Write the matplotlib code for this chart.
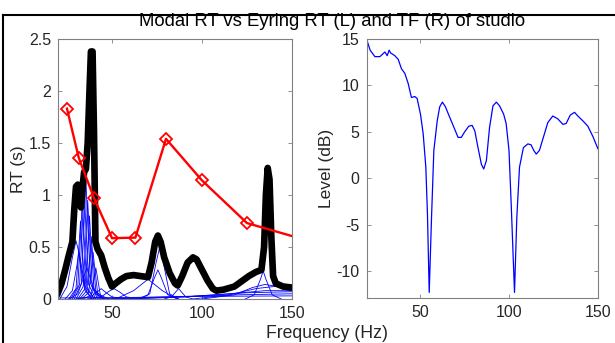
import matplotlib.pyplot as plt
from matplotlib.lines import Line2D

plt.rcParams['font.family'] = ['Liberation Sans', 'DejaVu Sans']
plt.rcParams['axes.unicode_minus'] = False

# Eyring RT in third-octave bands (red)
eyring_freq = [25, 31.5, 40, 50, 63, 80, 100, 125, 160]
eyring_rt = [1.83, 1.36, 0.97, 0.585, 0.59, 1.54, 1.14, 0.73, 0.555]

# Overall modal RT (thick black)
modal_freq = [20, 22, 24, 26, 28, 29, 30, 31, 32, 32.8, 33.5, 34.5, 35.5, 36.5,
              37.5, 38.3, 39.2, 40, 40.8, 42, 44, 46, 48, 50, 52, 55, 58, 62,
              66, 70, 72, 74, 75.5, 77, 79, 82, 85, 86.5, 89, 92, 95, 97, 100,
              103, 106, 108, 112, 118, 122, 126, 130, 133, 134.5, 135.5, 136.5,
              137.5, 138.5, 139.5, 141, 145, 150]
modal_rt = [0.06, 0.15, 0.28, 0.42, 0.55, 0.85, 1.08, 1.10, 0.95, 0.88, 1.05,
            1.22, 1.25, 1.5, 2.0, 2.38, 2.38, 1.6, 0.55, 0.48, 0.42, 0.3, 0.2,
            0.12, 0.15, 0.19, 0.22, 0.23, 0.22, 0.21, 0.35, 0.55, 0.61, 0.55,
            0.4, 0.25, 0.15, 0.13, 0.22, 0.35, 0.40, 0.38, 0.28, 0.18, 0.1,
            0.08, 0.09, 0.12, 0.17, 0.22, 0.26, 0.28, 0.5, 1.0, 1.26, 1.15,
            0.6, 0.22, 0.15, 0.12, 0.11]

# Individual mode RT curves (thin blue)
mode_freqs = [
    [21, 25, 28, 30, 32, 35, 40],
    [24, 28, 30.5, 31.5, 32.5, 35, 39],
    [26, 30, 31.8, 32.5, 33.2, 35, 39],
    [27, 31, 32.8, 33.5, 34.2, 36, 40],
    [28, 32, 33.8, 34.5, 35.2, 37, 41],
    [29, 33, 34.8, 35.5, 36.2, 38, 42],
    [30, 34, 35.8, 36.5, 37.2, 39, 43],
    [31, 35, 36.8, 37.5, 38.2, 40, 44],
    [32, 36, 37.8, 38.5, 39.2, 41, 45],
    [33, 37, 38.8, 39.5, 40.2, 42, 46],
    [34, 38.5, 40.2, 41, 41.8, 43.5, 48],
    [26, 31, 34.5, 36, 37.5, 41, 46],
    [30, 38, 42, 44, 46, 50, 58],
    [36, 44, 48, 51, 54, 58, 66],
    [52, 62, 70, 78, 86],
    [66, 71, 74.5, 76.5, 78.5, 82, 87],
    [64, 70, 73.5, 75.5, 77.5, 81, 87],
    [79, 83, 86, 87, 88, 91, 95],
    [124, 129, 132.5, 134, 135.5, 139, 144],
    [100, 118, 128, 135, 142, 150],
    [95, 115, 130, 140, 150],
    [60, 90, 115, 135, 150],
    [40, 80, 120, 150],
    [20, 60, 100, 150],
    [50, 90, 125, 150],
]
mode_rts = [
    [0.0, 0.12, 0.40, 0.56, 0.42, 0.12, 0.01],
    [0.0, 0.08, 0.32, 0.45, 0.32, 0.08, 0.0],
    [0.0, 0.10, 0.55, 0.75, 0.55, 0.10, 0.0],
    [0.0, 0.12, 0.70, 0.95, 0.70, 0.12, 0.0],
    [0.0, 0.14, 0.80, 1.10, 0.80, 0.14, 0.0],
    [0.0, 0.15, 0.85, 1.15, 0.85, 0.15, 0.0],
    [0.0, 0.12, 0.70, 0.95, 0.70, 0.12, 0.0],
    [0.0, 0.10, 0.58, 0.80, 0.58, 0.10, 0.0],
    [0.0, 0.08, 0.44, 0.60, 0.44, 0.08, 0.0],
    [0.0, 0.06, 0.33, 0.45, 0.33, 0.06, 0.0],
    [0.0, 0.04, 0.22, 0.30, 0.22, 0.04, 0.0],
    [0.0, 0.05, 0.22, 0.30, 0.22, 0.05, 0.0],
    [0.0, 0.02, 0.07, 0.10, 0.07, 0.02, 0.0],
    [0.0, 0.02, 0.07, 0.10, 0.07, 0.02, 0.0],
    [0.0, 0.08, 0.19, 0.08, 0.0],
    [0.0, 0.05, 0.35, 0.50, 0.35, 0.05, 0.0],
    [0.0, 0.04, 0.20, 0.28, 0.20, 0.04, 0.0],
    [0.0, 0.02, 0.08, 0.10, 0.08, 0.02, 0.0],
    [0.0, 0.04, 0.19, 0.27, 0.19, 0.04, 0.0],
    [0.0, 0.04, 0.11, 0.14, 0.12, 0.08],
    [0.0, 0.04, 0.10, 0.12, 0.11],
    [0.0, 0.02, 0.05, 0.08, 0.08],
    [0.0, 0.02, 0.04, 0.05],
    [0.01, 0.015, 0.025, 0.03],
    [0.0, 0.02, 0.06, 0.07],
]

# Transfer function of studio (right)
tf_freq = [20, 22, 24.7, 27.5, 30.3, 31.6, 32.7, 33.5, 35.9, 37.8, 39.6, 41.5,
           43.4, 45.2, 47.1, 48.4, 50.3, 51.8, 53.3, 54.2, 55.2, 56.5, 57.8,
           59.7, 61.1, 62.6, 64.3, 66.2, 68.6, 71.4, 73.2, 75.1, 77.4, 79.3,
           80.8, 82.6, 84.5, 85.8, 87.3, 89.1, 91, 92.9, 94.7, 97, 98.4, 100,
           101.3, 103.1, 104.4, 105.9, 108.1, 110.6, 112.4, 113.9, 115.3,
           117.1, 119.6, 121.8, 124.6, 127.4, 130.3, 132.1, 134.4, 136.8,
           138.7, 141.4, 144.3, 147.1, 149.9]
tf_db = [15, 13.8, 13.1, 13.1, 13.6, 13.2, 13.8, 13.5, 13.2, 12.8, 11.8, 11.3,
         10.2, 8.7, 8.8, 8.6, 6.9, 4.8, 1.2, -3.8, -12.3, -4.2, 3.0, 6.2, 7.7,
         8.2, 7.7, 6.8, 5.7, 4.4, 4.4, 5.0, 5.6, 5.7, 5.1, 3.3, 1.5, 1.0, 1.9,
         5.5, 7.8, 8.2, 7.8, 6.9, 5.9, 3.0, -3.1, -12.3, -4.2, 1.2, 3.3, 3.7,
         3.6, 3.0, 2.6, 3.0, 4.6, 6.0, 6.7, 6.4, 5.8, 5.9, 6.8, 7.1, 6.7, 6.2,
         5.6, 4.5, 3.2]

fig = plt.figure(figsize=(6.15, 3.43), dpi=100)
ax1 = fig.add_axes([0.0943, 0.1283, 0.3805, 0.758])
ax2 = fig.add_axes([0.596, 0.1312, 0.3764, 0.7551])

for f, rt in zip(mode_freqs, mode_rts):
    ax1.plot(f, rt, color='blue', linewidth=0.6)
ax1.plot(modal_freq, modal_rt, color='black', linewidth=4.8,
         solid_joinstyle='round')
ax1.plot(eyring_freq, eyring_rt, color='red', linewidth=1.7, marker='D',
         markersize=6.5, markerfacecolor='none', markeredgecolor='red',
         markeredgewidth=1.3)
ax1.set_xlim(20, 150)
ax1.set_ylim(0, 2.5)
ax1.set_xticks([50, 100, 150])
ax1.set_yticks([0, 0.5, 1, 1.5, 2, 2.5])
ax1.set_yticklabels(['0', '0.5', '1', '1.5', '2', '2.5'])
ax1.set_ylabel('RT (s)', fontsize=12.5, color='#262626', labelpad=2)

ax2.plot(tf_freq, tf_db, color='blue', linewidth=0.9)
ax2.set_xlim(20, 150)
ax2.set_ylim(-12.9, 15)
ax2.set_xticks([50, 100, 150])
ax2.set_yticks([-10, -5, 0, 5, 10, 15])
ax2.set_ylabel('Level (dB)', fontsize=12.5, color='#262626', labelpad=2)

for ax in (ax1, ax2):
    ax.tick_params(direction='in', length=3, width=0.6, top=True, right=True,
                   labelsize=11.5, colors='#808080', pad=5)
    ax.tick_params(labelcolor='#262626')
    for s in ax.spines.values():
        s.set_color('#808080')
        s.set_linewidth(0.8)

fig.text(0.54, 0.936, 'Modal RT vs Eyring RT (L) and TF (R) of studio',
         ha='center', va='center', fontsize=13.3, color='black')
fig.text(0.532, 0.028, 'Frequency (Hz)', ha='center', va='center',
         fontsize=12.7, color='#262626')

# outer frame lines of the screenshot
fig.add_artist(Line2D([0.005, 1.0], [0.956, 0.956], color='black',
                      linewidth=1.5, transform=fig.transFigure))
fig.add_artist(Line2D([0.005, 0.005], [0.0, 0.956], color='black',
                      linewidth=1.5, transform=fig.transFigure))

fig.savefig('out.png', dpi=100)
